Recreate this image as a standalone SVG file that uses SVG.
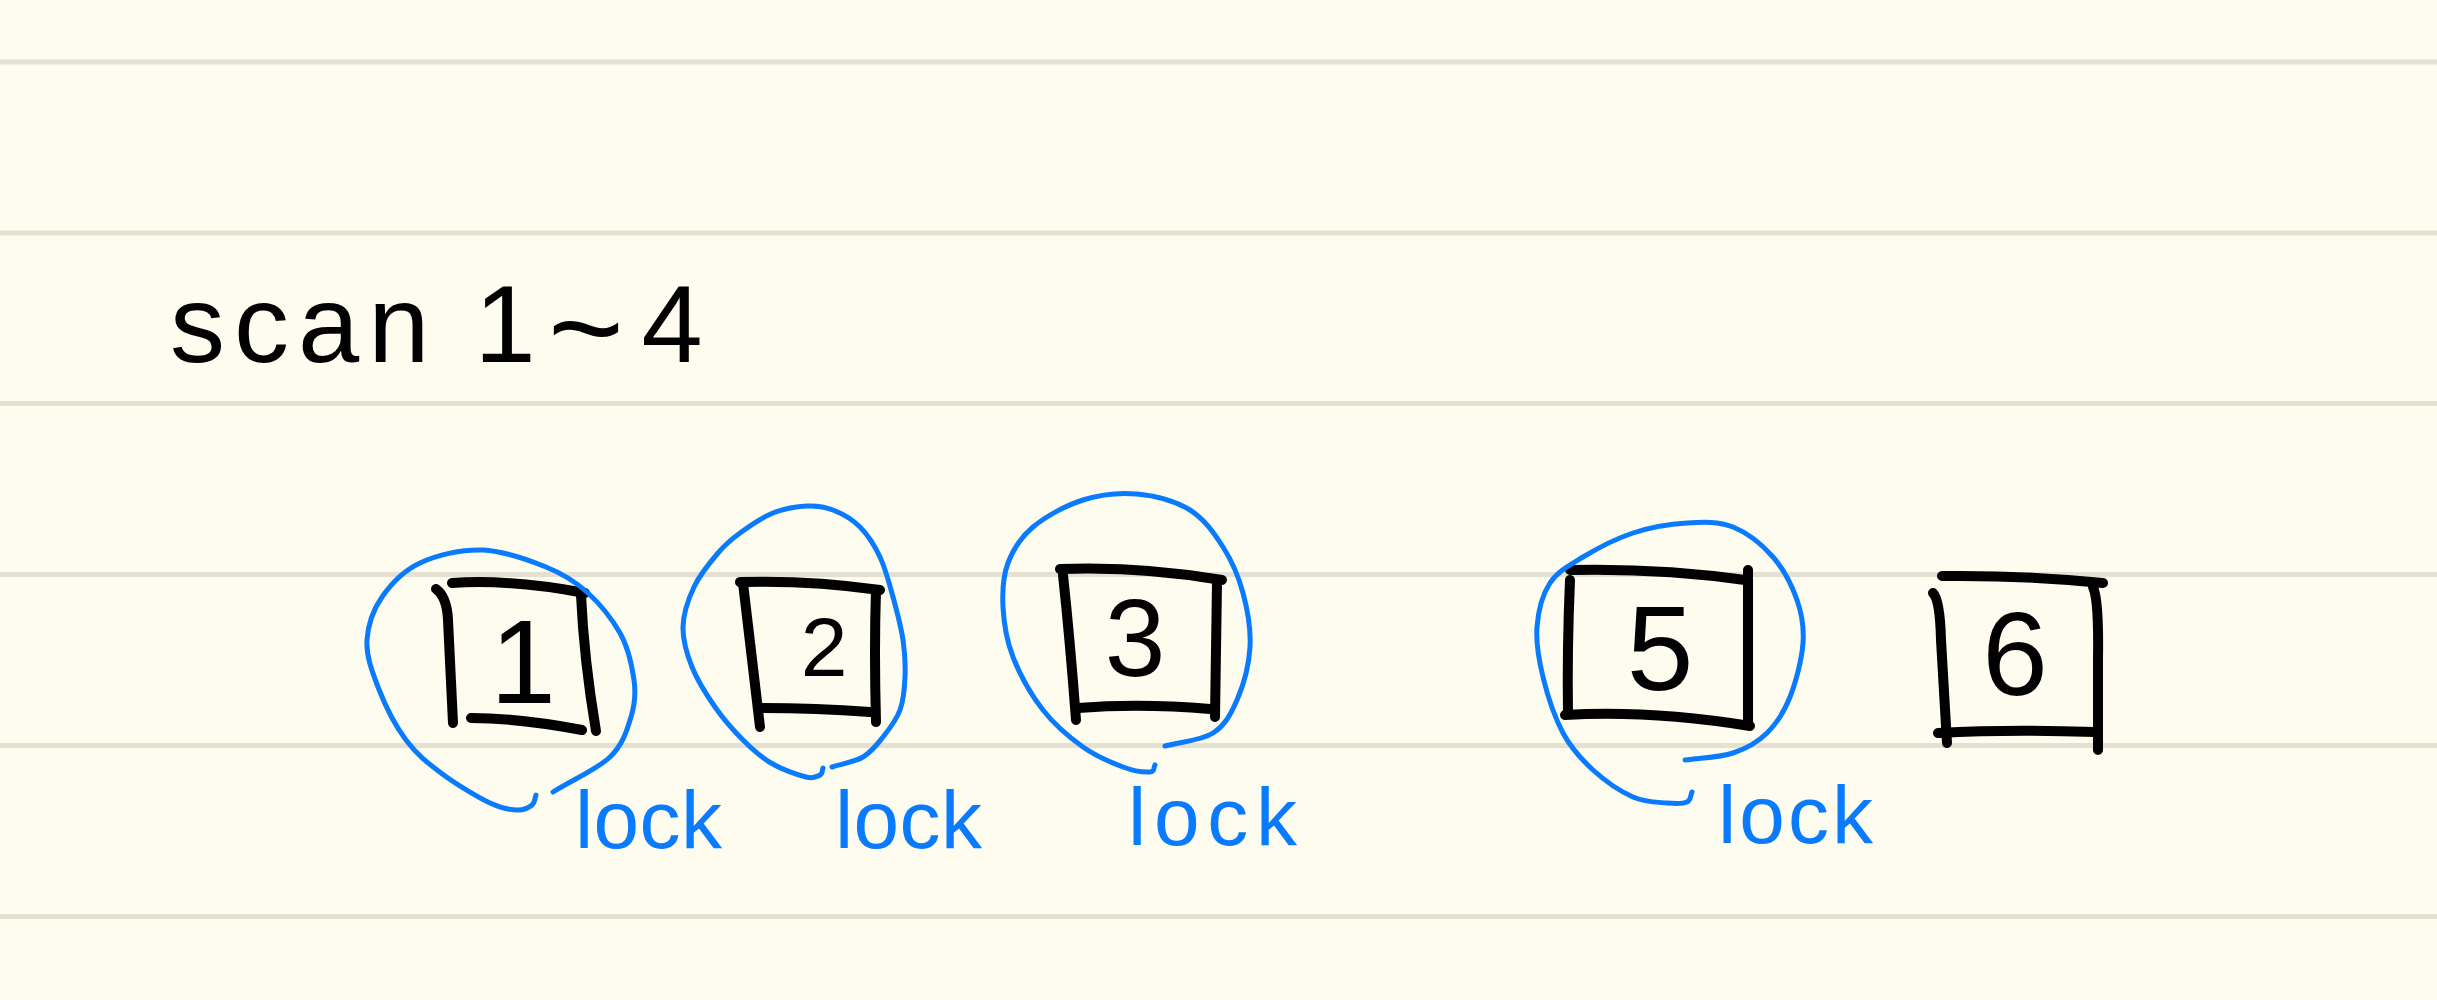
<svg xmlns="http://www.w3.org/2000/svg" width="2437" height="1000" viewBox="0 0 2437 1000">
<style>
.rule{stroke:#E4E1D3;stroke-width:5;fill:none}
.box{stroke:#000;stroke-width:10;fill:none;stroke-linecap:round;stroke-linejoin:round}
.ring{stroke:#0A7BFF;stroke-width:5;fill:none;stroke-linecap:round;stroke-linejoin:round}
.digit{font-family:"Liberation Sans",Arial,sans-serif;fill:#000;text-anchor:middle}
.lock{font-family:"Liberation Sans",Arial,sans-serif;font-size:82px;fill:#0A7BFF}
.title{font-family:"Liberation Sans",Arial,sans-serif;font-size:110px;fill:#000}
</style>
<rect width="2437" height="1000" fill="#FEFCEE"/>
<g id="paper-lines">
<line class="rule" x1="0" y1="62" x2="2437" y2="62"/>
<line class="rule" x1="0" y1="233" x2="2437" y2="233"/>
<line class="rule" x1="0" y1="403.5" x2="2437" y2="403.5"/>
<line class="rule" x1="0" y1="574.5" x2="2437" y2="574.5"/>
<line class="rule" x1="0" y1="745.5" x2="2437" y2="745.5"/>
<line class="rule" x1="0" y1="916.5" x2="2437" y2="916.5"/>
</g>
<g id="title">
<text class="title" y="362"><tspan x="170" letter-spacing="9">scan</tspan> <tspan x="505" text-anchor="middle">1</tspan><tspan x="586" y="372" text-anchor="middle" font-size="130">~</tspan><tspan x="672" y="362" text-anchor="middle">4</tspan></text>
</g>
<g id="connectors"></g>
<g id="node-1">
<path class="box" d="M436,589 Q447,597 448,620 L453,723"/>
<path class="box" d="M452,583 Q510,579 585,593"/>
<path class="box" d="M581,595 Q584,660 596,731"/>
<path class="box" d="M471,718 Q518,718 582,730"/>
<text class="digit" x="523" y="703" font-size="118">1</text>
<path class="ring" d="M553,792 C572,780 597,769.5 610,757 S627,730 631,717 S636,694 634,680 S628,647 620,633 S600,604 588,593 S563.5,574 546,567 S504,551 483,550 S437,555 420,563 S391,584 382,597 S368,625 367,640 S371.5,670 378,687 S395.5,726 406,740 S427,762.5 441,773 S477,797 490,803 S511,810 518,810 S529,807.5 532,805 S534.7,798.3 536,795"/>
<text class="lock" x="575" y="848" textLength="147">lock</text>
</g>
<g id="node-2">
<path class="box" d="M740,582 Q810,580 880,590"/>
<path class="box" d="M743,583 L760,727"/>
<path class="box" d="M876,590 Q874,650 876,722"/>
<path class="box" d="M760,708 Q815,708 870,712"/>
<text class="digit" x="824" y="676" font-size="84">2</text>
<path class="ring" d="M832,767 C842.3,763.7 854.5,762 863,757 S876.8,744.8 883,737 S896.3,720 900,710 S904.5,688.7 905,677 S905,653.3 903,640 S896.8,610.8 893,597 S885.5,568.7 880,557 S867.8,534.8 860,527 S841.8,513.5 833,510 S817,505.5 807,506 S784.2,508.5 773,513 S749.2,526.3 740,533 S725.7,544 718,553 S699.8,574.7 694,587 S683.3,613.7 683,627 S686.7,653.7 692,667 S706.5,694.8 715,707 S733.7,730.7 743,740 S760.5,756.8 771,763 S797.8,775 806,777 S817.2,776.5 820,775 S822,770.3 823,768"/>
<text class="lock" x="835" y="848" textLength="147">lock</text>
</g>
<g id="node-3">
<path class="box" d="M1060,569 Q1140,566 1222,580"/>
<path class="box" d="M1063,575 Q1070,640 1076,720"/>
<path class="box" d="M1217,583 L1215,717"/>
<path class="box" d="M1078,708 Q1140,703 1210,709"/>
<text class="digit" x="1135" y="676" font-size="109">3</text>
<path class="ring" d="M1165,746 C1181,741.7 1201,740.7 1213,733 S1230.8,714.3 1237,700 S1249,664.8 1250,647 S1247.5,609.7 1243,593 S1231.8,560.8 1223,547 S1204.3,518.8 1190,510 S1154.8,495.7 1137,494 S1100.3,494.5 1083,500 S1045.5,516.5 1033,527 S1013,549.7 1008,563 S1002.2,591.3 1003,607 S1006.3,639.8 1013,657 S1031.3,695 1043,710 S1069.7,737.5 1083,747 S1111.8,762.8 1123,767 S1144.7,772.3 1150,772 S1153.3,767.3 1155,765"/>
<text class="lock" x="1128" y="845" textLength="169">lock</text>
</g>
<g id="node-5">
<path class="box" d="M1570,570 Q1660,568 1745,580"/>
<path class="box" d="M1570,580 Q1567,650 1568,713"/>
<path class="box" d="M1748,570 L1748,725"/>
<path class="box" d="M1565,715 Q1650,710 1750,726"/>
<text class="digit" x="1660" y="690" font-size="120">5</text>
<path class="ring" d="M1685,760 C1701,757.7 1719.3,757.5 1733,753 S1757.5,742.3 1767,733 S1784,712 1790,697 S1801.8,659.2 1803,643 S1802,614.3 1797,600 S1783.7,569.2 1773,557 S1747.3,532.7 1733,527 S1703.7,522 1687,523 S1650.3,527.3 1633,533 S1596.8,548.7 1583,557 S1557.7,571.3 1550,583 S1538.2,611.3 1537,627 S1538.7,659.3 1543,677 S1554.7,717.5 1563,733 S1581.3,759.3 1593,770 S1620.7,791.5 1633,797 S1658,802.2 1667,803 S1682.8,803.8 1687,802 S1690.3,795.3 1692,792"/>
<text class="lock" x="1718" y="843" textLength="155">lock</text>
</g>
<g id="node-6">
<path class="box" d="M1942,576 Q2020,575 2103,583"/>
<path class="box" d="M1933,593 Q1940,600 1941,640 L1947,743"/>
<path class="box" d="M2093,587 Q2099,600 2098,660 L2098,750"/>
<path class="box" d="M1938,733 Q2010,729 2095,732"/>
<text class="digit" x="2015" y="695" font-size="118">6</text>
</g>
</svg>
